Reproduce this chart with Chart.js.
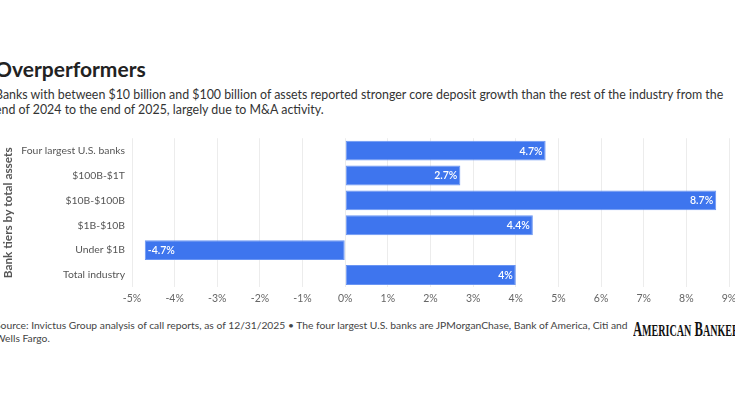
<!DOCTYPE html>
<html>
<head>
<meta charset="utf-8">
<script src="https://cdn.jsdelivr.net/npm/chart.js@4.4.1/dist/chart.umd.min.js"></script>
<style>
  html, body { margin: 0; padding: 0; background: #fff; overflow: hidden; }
  body { width: 735px; height: 400px; position: relative; font-family: Lato, sans-serif; }
  .txt { position: absolute; left: -5px; white-space: nowrap; }
  #title { top: 56px; font-size: 21px; font-weight: 700; color: #222; }
  #sub { top: 87px; font-size: 12.4px; line-height: 15px; color: #333; }
  #foot { top: 319px; font-size: 10.3px; line-height: 13px; color: #444; }
  #logo { position: absolute; left: 633px; top: 318px; font-family: "Liberation Serif", serif; font-weight: 700;
          font-size: 20px; color: #111; transform: scaleX(0.63); transform-origin: left top; white-space: nowrap; }
  #wrap { position: absolute; left: 0; top: 125px; width: 760px; height: 185px; }
</style>
</head>
<body>
<div id="title" class="txt">Overperformers</div>
<div id="sub" class="txt">Banks with between $10 billion and $100 billion of assets reported stronger core deposit growth than the rest of the industry from the<br>end of 2024 to the end of 2025, largely due to M&amp;A activity.</div>
<div id="foot" class="txt">Source: Invictus Group analysis of call reports, as of 12/31/2025 • The four largest U.S. banks are JPMorganChase, Bank of America, Citi and<br>Wells Fargo.</div>
<div id="logo">A<span style="font-size:16px">MERICAN</span> B<span style="font-size:16px">ANKER</span></div>
<div id="wrap"><canvas id="myChart"></canvas></div>
<script>
const tiers = ['Four largest U.S. banks', '$100B-$1T', '$10B-$100B', '$1B-$10B', 'Under $1B', 'Total industry']
const growth = [4.7, 2.7, 8.7, 4.4, -4.7, 4]
const growthLabels = ['4.7%', '2.7%', '8.7%', '4.4%', '-4.7%', '4%']
const xTicks = [-5, -4, -3, -2, -1, 0, 1, 2, 3, 4, 5, 6, 7, 8, 9]

// writes the value inside the end of each bar
const barLabels = {
  id: 'barLabels',
  afterDatasetsDraw(chart) {
    const ctx = chart.ctx
    const bars = chart.getDatasetMeta(0).data
    ctx.save()
    ctx.font = '600 10.5px Lato'
    ctx.fillStyle = '#fff'
    ctx.textBaseline = 'middle'
    bars.forEach((bar, i) => {
      if (growth[i] >= 0) {
        ctx.textAlign = 'right'
        ctx.fillText(growthLabels[i], bar.x - 3, bar.y + 0.5)
      } else {
        ctx.textAlign = 'left'
        ctx.fillText(growthLabels[i], bar.x + 3, bar.y + 0.5)
      }
    })
    ctx.restore()
  }
}

const context = document.getElementById('myChart')

const myChart = new Chart(context, {
  type: 'bar',
  data: {
    labels: tiers,
    datasets: [{
      data: growth,
      backgroundColor: '#3e75ee',
      borderColor: '#6a95f3',
      borderWidth: 1,
      borderSkipped: false,
      categoryPercentage: 0.8,
      barPercentage: 1
    }]
  },
  options: {
    indexAxis: 'y',
    responsive: true,
    maintainAspectRatio: false,
    animation: false,
    layout: { padding: { top: 8, right: 31, left: 0, bottom: 0 } },
    plugins: { legend: { display: false }, tooltip: { enabled: false } },
    scales: {
      x: {
        min: -5,
        max: 9,
        afterBuildTicks: (scale) => { scale.ticks = xTicks.map(v => ({ value: v })) },
        grid: { color: '#ececec', drawTicks: false },
        border: { display: false },
        ticks: { padding: 5, color: '#666', font: { family: 'Lato', size: 10.5 }, callback: v => v + '%' }
      },
      y: {
        afterFit: (scale) => { scale.width = 132 },
        grid: { display: false, drawTicks: false },
        border: { display: false },
        ticks: { padding: 7, color: '#555', font: { family: 'Lato', size: 10.4 } },
        title: { display: true, text: 'Bank tiers by total assets', color: '#555',
                 font: { family: 'Lato', size: 11.8, weight: 'bold' }, padding: { top: 1, bottom: 0 } }
      }
    }
  },
  plugins: [barLabels]
})
</script>
</body>
</html>
